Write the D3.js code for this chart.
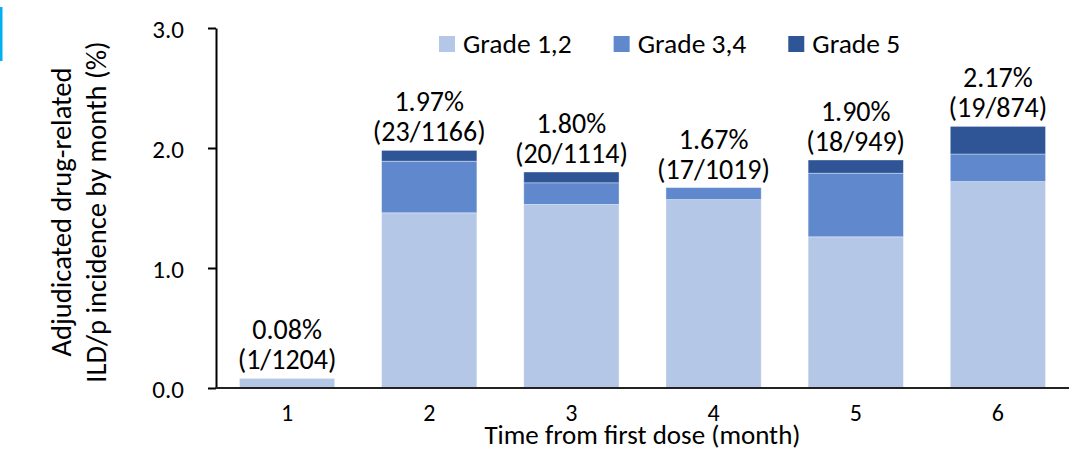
<!DOCTYPE html>
<html>
<head>
<meta charset="utf-8">
<script src="https://cdn.jsdelivr.net/npm/d3@7"></script>
<style>
  html, body { margin: 0; padding: 0; background: #fff; }
  svg { display: block; }
  text { font-family: Carlito, Lato, "Open Sans", sans-serif; fill: #000; }
</style>
</head>
<body>
<svg id="chart" width="1074" height="450"></svg>
<script>
// ---- data ----
const months = ["1", "2", "3", "4", "5", "6"];
const grade12 = [0.08, 1.46, 1.53, 1.57, 1.26, 1.72];
const grade34 = [0.00, 0.43, 0.18, 0.10, 0.53, 0.23];
const grade5  = [0.00, 0.09, 0.09, 0.00, 0.11, 0.23];
const pctLabels = ["0.08%", "1.97%", "1.80%", "1.67%", "1.90%", "2.17%"];
const countLabels = ["(1/1204)", "(23/1166)", "(20/1114)", "(17/1019)", "(18/949)", "(19/874)"];
const seriesNames = ["Grade 1,2", "Grade 3,4", "Grade 5"];
const yTicks = [0, 1, 2, 3];
const yTitle = ["Adjudicated drug-related", "ILD/p incidence by month (%)"];
const xTitle = "Time from first dose (month)";

// ---- setup ----
const colors = ["#B4C7E7", "#5F88CD", "#2F5597"];
const svg = d3.select("#chart");
const ff = "Carlito, Lato, 'Open Sans', sans-serif";

const x = d3.scaleBand().domain(months).range([216, 1069]).paddingInner(0.33).paddingOuter(0.165);
const y = d3.scaleLinear().domain([0, 3]).range([388, 28]);

const rows = months.map((m, i) => ({ month: m, g12: grade12[i], g34: grade34[i], g5: grade5[i] }));
const layers = d3.stack().keys(["g12", "g34", "g5"])(rows);

// cyan accent
svg.append("rect").attr("x", 0).attr("y", 7).attr("width", 2.5).attr("height", 54).attr("fill", "#00B0F0");

// bars
svg.append("g").selectAll("g").data(layers).join("g")
  .attr("fill", (d, i) => colors[i])
  .selectAll("rect").data(d => d).join("rect")
  .attr("x", d => x(d.data.month))
  .attr("width", x.bandwidth())
  .attr("y", d => y(d[1]))
  .attr("height", d => Math.max(0, y(d[0]) - y(d[1])))
  .attr("stroke", "rgba(255,255,255,0.45)")
  .attr("stroke-width", 0.8);

// y axis
const yAxis = svg.append("g").attr("transform", "translate(216,0)")
  .call(d3.axisLeft(y).tickValues(yTicks).tickFormat(d3.format(".1f")).tickSize(8).tickSizeOuter(0));
yAxis.select(".domain").attr("stroke", "#000").attr("stroke-width", 2);
yAxis.selectAll(".tick line").attr("stroke", "#000").attr("stroke-width", 2);
yAxis.selectAll(".tick text").attr("font-size", 25).attr("x", -32).attr("dy", "0.36em")
  .style("font-family", ff);

// x axis
const xAxis = svg.append("g").attr("transform", "translate(0,388)")
  .call(d3.axisBottom(x).tickSize(0).tickSizeOuter(0));
xAxis.select(".domain").attr("stroke", "#222").attr("stroke-width", 2).attr("d", "M215,0H1069");
xAxis.selectAll(".tick text").attr("font-size", 24).attr("y", 33).attr("dy", 0)
  .style("font-family", ff);

// value labels
const labels = svg.append("g").attr("text-anchor", "middle").attr("font-size", 28);
months.forEach((m, i) => {
  const total = grade12[i] + grade34[i] + grade5[i];
  const cx = x(m) + x.bandwidth() / 2;
  const base = y(total) - 9;
  labels.append("text").attr("x", cx).attr("y", base - 30).text(pctLabels[i]);
  labels.append("text").attr("x", cx).attr("y", base).text(countLabels[i]);
});

// legend
const legend = svg.append("g").attr("font-size", 27.5);
let lx = 439;
seriesNames.forEach((name, i) => {
  legend.append("rect").attr("x", lx).attr("y", 36).attr("width", 16).attr("height", 16).attr("fill", colors[i]);
  const t = legend.append("text").attr("x", lx + 24).attr("y", 53).text(name);
  lx = lx + 24 + t.node().getComputedTextLength() + 42;
});

// axis titles
svg.append("text").attr("x", 642.5).attr("y", 444).attr("text-anchor", "middle").attr("font-size", 27).text(xTitle);
yTitle.forEach((line, i) => {
  svg.append("text")
    .attr("transform", `translate(${i === 0 ? 71 : 106},212) rotate(-90)`)
    .attr("text-anchor", "middle").attr("font-size", 28.5).text(line);
});
</script>
</body>
</html>
